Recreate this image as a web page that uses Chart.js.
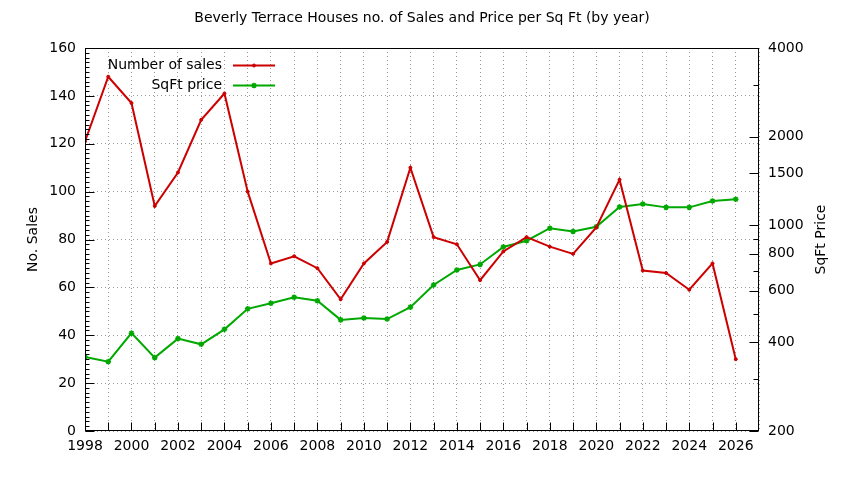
<!DOCTYPE html>
<html><head><meta charset="utf-8">
<script src="https://cdn.jsdelivr.net/npm/chart.js@4/dist/chart.umd.min.js"></script>
<style>html,body{margin:0;padding:0;background:#fff}#wrap{width:844px;height:480px}</style>
</head><body><div id="wrap"><canvas id="c" width="844" height="480"></canvas></div>
<script>
const years = [1998,1999,2000,2001,2002,2003,2004,2005,2006,2007,2008,2009,2010,2011,2012,2013,2014,2015,2016,2017,2018,2019,2020,2021,2022,2023,2024,2025,2026];
const salesCount = [121,148,137,94,108,130,141,100,70,73,68,55,70,79,110,81,78,63,75,81,77,74,85,105,67,66,59,70,30];
const sqftPrice = [357,344,430,355,412,394,443,520,543,569,554,477,484,480,527,627,705,736,844,886,977,953,988,1154,1180,1150,1150,1209,1225];
const xTickLabels = [1998,2000,2002,2004,2006,2008,2010,2012,2014,2016,2018,2020,2022,2024,2026];
const rightTickLabels = [200,400,600,800,1000,1500,2000,4000];
const rightMinorTicks = [300,500,700,900,3000];
const seriesNames = ['Number of sales','SqFt price'];
const titleText = 'Beverly Terrace Houses no. of Sales and Price per Sq Ft (by year)';

const FONT = 'DejaVu Sans';
const FS = 14;
Chart.defaults.font.family = FONT;
Chart.defaults.font.size = FS;
Chart.defaults.color = '#000';

const RED = '#cc0000', GREEN = '#00a800';

const framePlugin = {
  id: 'frame',
  afterDraw(chart) {
    const {ctx, chartArea: a, scales} = chart;
    ctx.save();
    ctx.strokeStyle = '#000';
    ctx.lineWidth = 1;
    const L = Math.round(a.left) + 0.5, R = Math.round(a.right) - 0.5, T = Math.round(a.top) + 0.5, B = Math.round(a.bottom) - 0.5;
    ctx.strokeRect(L, T, R - L, B - T);
    ctx.beginPath();
    for (let y = years[0]; y <= years[years.length - 1]; y++) {
      const px = Math.round(scales.x.getPixelForValue(y)) + 0.5;
      ctx.moveTo(px, B); ctx.lineTo(px, B - 8);
    }
    for (let v = 0; v <= 160; v += 2) {
      const py = Math.round(scales.y.getPixelForValue(v)) + 0.5;
      const len = v % 20 === 0 ? 9 : 4;
      ctx.moveTo(L, py); ctx.lineTo(L + len, py);
    }
    rightTickLabels.concat(rightMinorTicks).forEach(v => {
      const py = Math.round(scales.y1.getPixelForValue(v)) + 0.5;
      const len = rightTickLabels.includes(v) ? 9 : 5;
      ctx.moveTo(R, py); ctx.lineTo(R - len, py);
    });
    ctx.stroke();
    ctx.fillStyle = '#000';
    ctx.font = FS + 'px "' + FONT + '"';
    ctx.textAlign = 'center';
    ctx.textBaseline = 'middle';
    ctx.translate(821, (a.top + a.bottom) / 2);
    ctx.rotate(-Math.PI / 2);
    ctx.fillText('SqFt Price', 0, 0);
    ctx.restore();
  }
};

const legendPlugin = {
  id: 'gpLegend',
  afterDatasetsDraw(chart) {
    const {ctx} = chart;
    ctx.save();
    ctx.font = FS + 'px "' + FONT + '"';
    ctx.textAlign = 'right';
    ctx.textBaseline = 'middle';
    chart.data.datasets.forEach((ds, i) => {
      const y = 65.5 + i * 20;
      ctx.fillStyle = '#000';
      ctx.fillText(ds.label, 222, y);
      ctx.strokeStyle = ds.borderColor;
      ctx.lineWidth = 2;
      ctx.beginPath(); ctx.moveTo(233, y); ctx.lineTo(275, y); ctx.stroke();
      ctx.fillStyle = ds.borderColor;
      ctx.lineWidth = ds.pointBorderWidth;
      Chart.helpers.drawPoint(ctx, {pointStyle: ds.pointStyle, radius: ds.pointRadius, borderWidth: ds.pointBorderWidth, rotation: 0}, 254, y);
    });
    ctx.restore();
  }
};

new Chart(document.getElementById('c'), {
  type: 'line',
  data: {
    datasets: [
      {
        label: seriesNames[0],
        data: years.map((yr, i) => ({x: yr, y: salesCount[i]})),
        borderColor: RED, backgroundColor: RED,
        borderWidth: 2, pointStyle: 'circle', pointRadius: 1.5, pointBorderWidth: 1,
        tension: 0, yAxisID: 'y'
      },
      {
        label: seriesNames[1],
        data: years.map((yr, i) => ({x: yr, y: sqftPrice[i]})),
        borderColor: GREEN, backgroundColor: GREEN,
        borderWidth: 2, pointStyle: 'star', pointRadius: 2.8, pointBorderWidth: 1.5,
        tension: 0, yAxisID: 'y1'
      }
    ]
  },
  options: {
    responsive: false,
    animation: false,
    devicePixelRatio: 1,
    layout: {padding: 0},
    plugins: {
      legend: {display: false},
      tooltip: {enabled: false},
      title: {
        display: true, text: titleText,
        font: {size: FS, weight: 'normal'},
        color: '#000',
        padding: {top: 9.5, bottom: 21.7}
      }
    },
    scales: {
      x: {
        type: 'linear', min: 1998, max: 2027,
        afterFit(s) { s.height = 49; },
        afterBuildTicks(s) { s.ticks = []; for (let v = 1998; v <= 2027; v++) s.ticks.push({value: v}); },
        ticks: {
          autoSkip: false, maxRotation: 0, padding: 7,
          font: {size: FS},
          callback: v => xTickLabels.includes(v) ? String(v) : ''
        },
        grid: {color: '#9a9a9a', lineWidth: 1, drawTicks: false},
        border: {display: false, dash: [1, 3]}
      },
      y: {
        type: 'linear', position: 'left', min: 0, max: 160,
        afterFit(s) { s.width = 85; },
        ticks: {stepSize: 20, padding: 9, font: {size: FS}},
        grid: {color: '#9a9a9a', lineWidth: 1, drawTicks: false},
        border: {display: false, dash: [1, 3]},
        title: {display: true, text: 'No. Sales', font: {size: FS}, padding: {top: 25, bottom: 0}}
      },
      y1: {
        type: 'logarithmic', position: 'right', min: 200, max: 4000,
        afterFit(s) { s.width = 85; },
        afterBuildTicks(s) { s.ticks = rightTickLabels.concat(rightMinorTicks).sort((a, b) => a - b).map(v => ({value: v})); },
        ticks: {
          padding: 9, font: {size: FS}, autoSkip: false,
          callback: v => rightTickLabels.includes(v) ? String(v) : ''
        },
        grid: {display: false, drawTicks: false},
        border: {display: false}
      }
    }
  },
  plugins: [framePlugin, legendPlugin]
});
</script>
</body></html>
